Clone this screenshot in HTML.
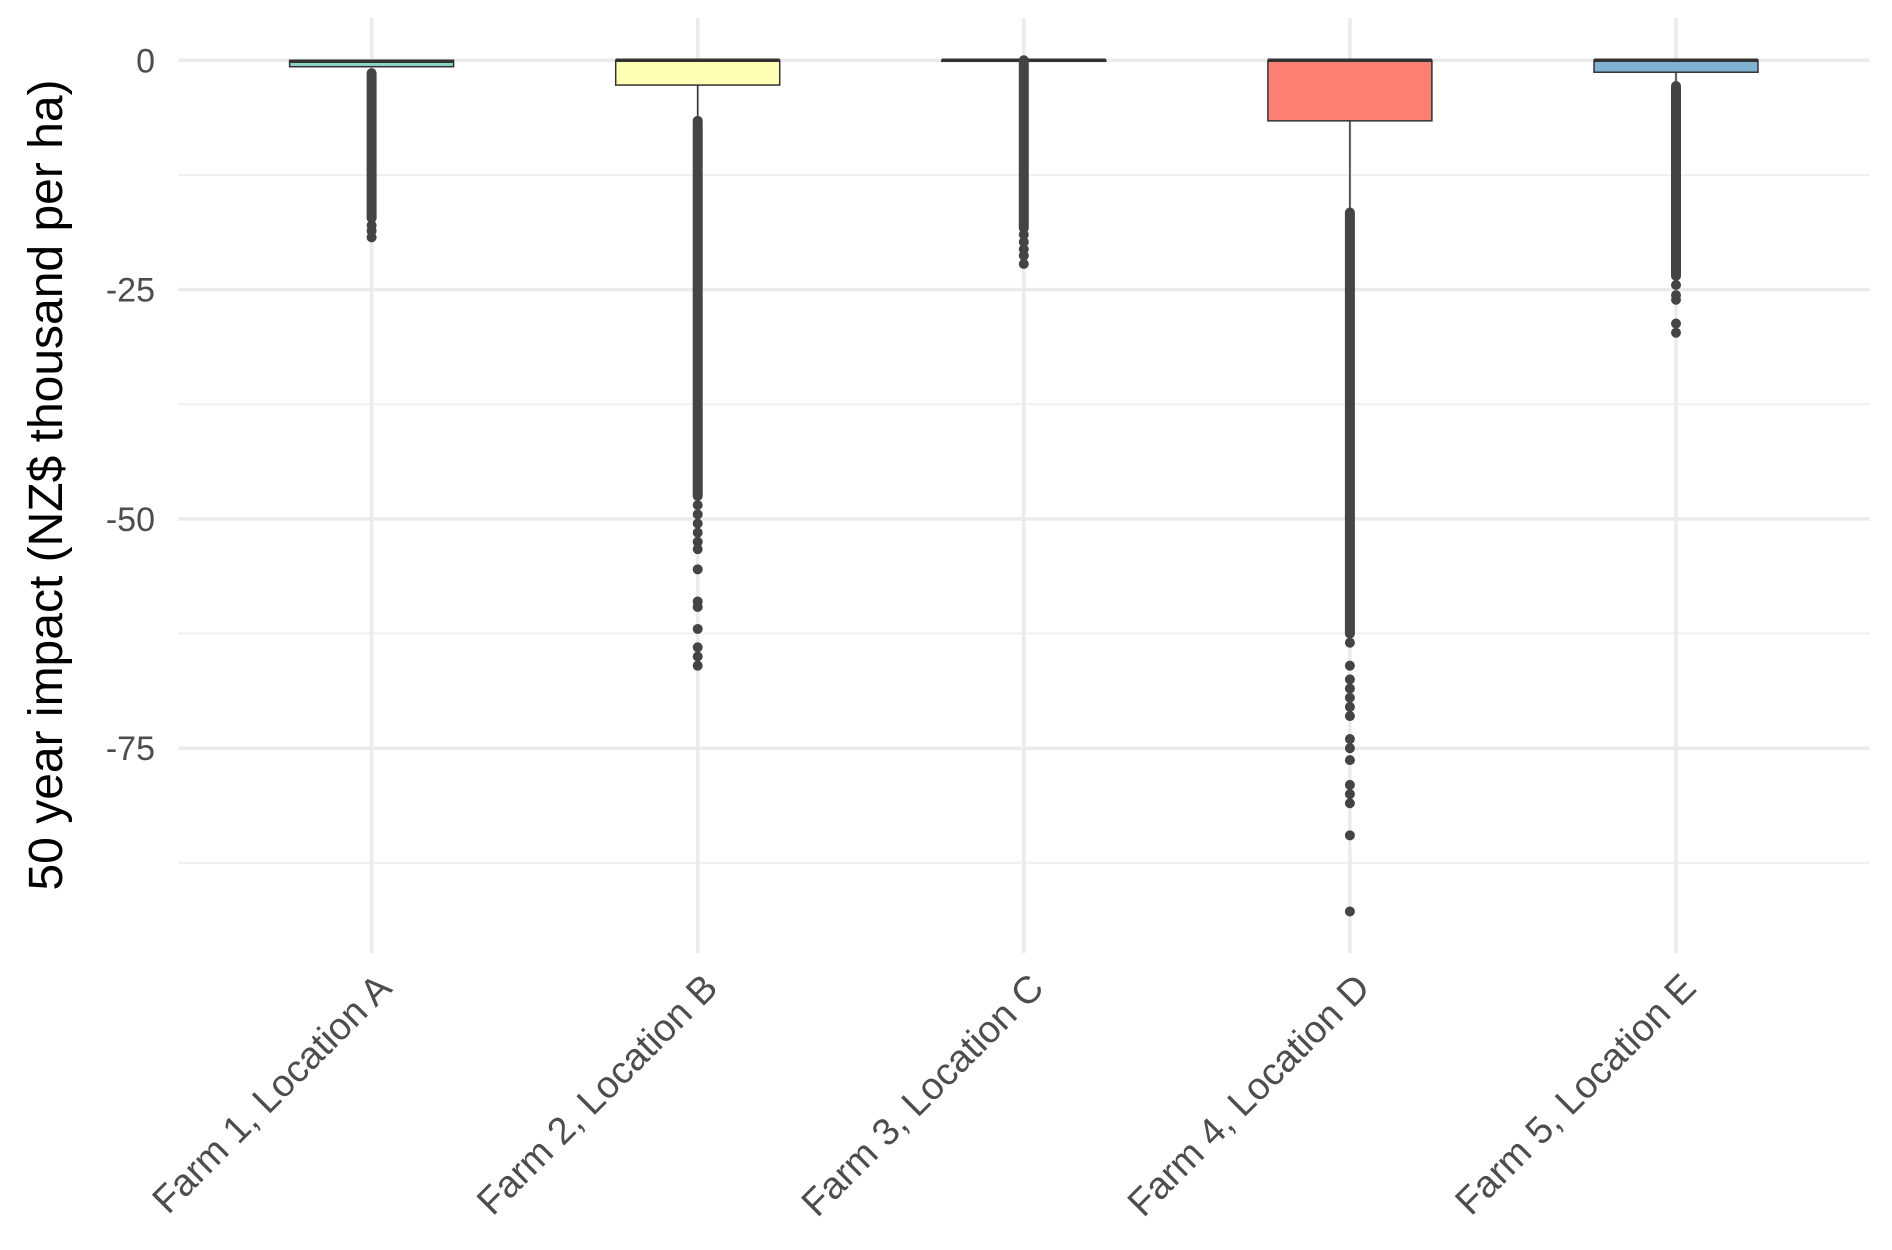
<!DOCTYPE html>
<html><head><meta charset="utf-8"><style>
html,body{margin:0;padding:0;background:#fff;}
svg{display:block;font-family:"Liberation Sans",Arial,sans-serif;}
</style></head><body>
<svg id="chart" width="1892" height="1250" viewBox="0 0 1892 1250" xmlns="http://www.w3.org/2000/svg">
<g id="grid"></g>
<g id="marks"></g>
<g id="axes"></g>
<text x="0" y="0" transform="translate(62,485) rotate(-90)" text-anchor="middle" font-size="48" fill="#000">50 year impact (NZ$ thousand per ha)</text>
</svg>
<script>
const categories = ["Farm 1, Location A","Farm 2, Location B","Farm 3, Location C","Farm 4, Location D","Farm 5, Location E"];
const colors = ["#8DD3C7","#FFFFB3","#BEBADA","#FB8072","#80B1D3"];
const q3 = [0, 0, 0, 0, 0];
const median = [-0.1, 0, 0, 0, 0];
const q1 = [-0.7, -2.7, -0.1, -6.6, -1.3];
const whiskerLow = [-0.8, -6.5, -0.1, -16.5, -2.7];
const denseTop = [-1.4, -6.6, 0, -16.6, -2.8];
const denseBottom = [-17.2, -47.5, -18.3, -62.5, -23.5];
const outliersA = [-18, -18.6, -19.3];
const outliersB = [-48.5, -49.5, -50.5, -51.5, -52.5, -53.3, -55.5, -59, -59.6, -62, -64, -65, -66];
const outliersC = [-19, -19.8, -20.6, -21.3, -22.2];
const outliersD = [-63.5, -66, -67.5, -68.5, -69.5, -70.5, -71.5, -74, -75, -76.3, -79, -80, -81, -84.5, -92.8];
const outliersE = [-24.5, -25.6, -26.1, -28.7, -29.7];
const outliers = [outliersA, outliersB, outliersC, outliersD, outliersE];
const yTicks = [0, -25, -50, -75];
const yMinor = [-12.5, -37.5, -62.5, -87.5];

const NS = "http://www.w3.org/2000/svg";
const plotL = 178, plotR = 1870, plotT = 18, plotB = 953;
function xPos(i){ return 371.6 + i * 326.1; }
function yPos(v){ return 60.3 - v * 9.172; }
function mk(tag, attrs, parent){
  const e = document.createElementNS(NS, tag);
  for (const k in attrs) e.setAttribute(k, attrs[k]);
  parent.appendChild(e);
  return e;
}
const grid = document.getElementById("grid");
const marks = document.getElementById("marks");
const axes = document.getElementById("axes");

yMinor.forEach(v => {
  const l = mk("line", {x1:plotL, x2:plotR, y1:yPos(v), y2:yPos(v), stroke:"#f0f0f0", "stroke-width":2}, grid);
  
  
});
yTicks.forEach(v => {
  const l = mk("line", {x1:plotL, x2:plotR, y1:yPos(v), y2:yPos(v), stroke:"#ebebeb", "stroke-width":3.5}, grid);
  
  
  const t = mk("text", {x:155, y:yPos(v)+12, "text-anchor":"end", "font-size":34, fill:"#4d4d4d"}, axes);
  t.textContent = String(v);
  
  
});
categories.forEach((c, i) => {
  const x = xPos(i);
  const l = mk("line", {x1:x, x2:x, y1:plotT, y2:plotB, stroke:"#ebebeb", "stroke-width":3.5}, grid);
  
  
  const t = mk("text", {x:0, y:0, transform:"translate(" + (x+22) + ",990) rotate(-45)", "text-anchor":"end", "font-size":38, fill:"#4d4d4d"}, axes);
  t.textContent = c;
  
  

  const g = mk("g", {}, marks);
  
  
  const w = mk("line", {x1:x, x2:x, y1:yPos(q1[i]), y2:yPos(whiskerLow[i]), stroke:"#333", "stroke-width":1.5}, g);
  
  
  const r = mk("rect", {x:x-82, y:yPos(q3[i]), width:164, height:Math.max(yPos(q1[i]) - yPos(q3[i]), 1), fill:colors[i], stroke:"#333", "stroke-width":1.5}, g);
  
  
  const m = mk("line", {x1:x-82, x2:x+82, y1:yPos(median[i]), y2:yPos(median[i]), stroke:"#333", "stroke-width":3.5}, g);
  
  
  const d = mk("line", {x1:x, x2:x, y1:yPos(denseTop[i]), y2:yPos(denseBottom[i]), stroke:"#444", "stroke-width":10, "stroke-linecap":"round"}, g);
  
  
  outliers[i].forEach(v => {
    const p = mk("circle", {cx:x, cy:yPos(v), r:5, fill:"#444"}, g);
    
    
  });
});
</script>
</body></html>
